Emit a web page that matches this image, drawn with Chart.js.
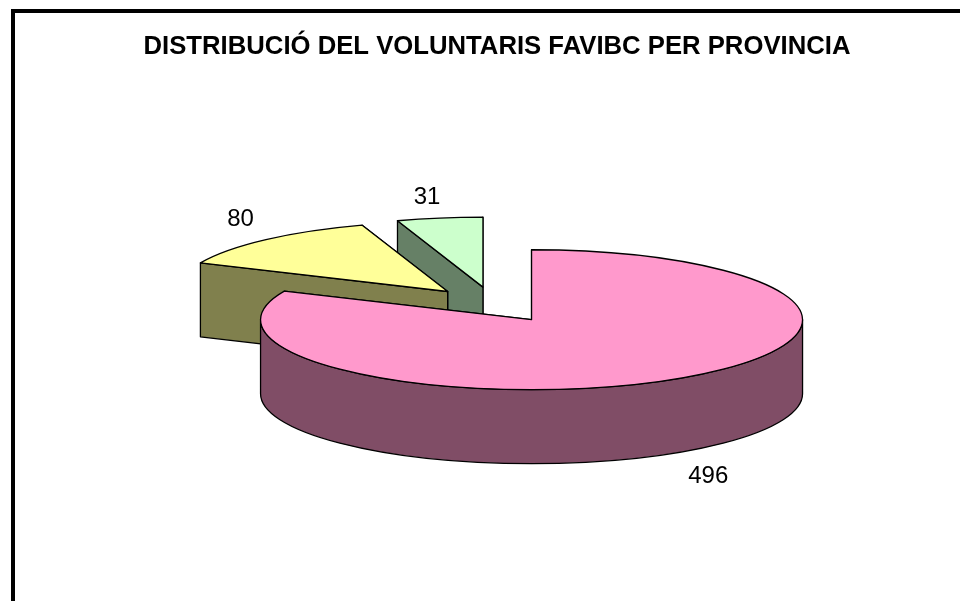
<!DOCTYPE html>
<html>
<head>
<meta charset="utf-8">
<title>Distribució voluntaris</title>
<script src="https://cdn.jsdelivr.net/npm/chart.js@4/dist/chart.umd.min.js"></script>
<style>
    html, body { margin: 0; padding: 0; background: #fff; overflow: hidden; }
    #wrap { position: relative; width: 960px; height: 601px; }
    #frame { position: absolute; left: 11px; top: 9px; right: 0; bottom: 0; border-top: 4px solid #000; border-left: 4px solid #000; }
    #pieChart { position: absolute; left: 0; top: 0; }
</style>
</head>
<body>
<div id="wrap">
    <div id="frame"></div>
    <canvas id="pieChart" width="960" height="601"></canvas>
</div>
<script>
var chartTitle = 'DISTRIBUCIÓ DEL VOLUNTARIS FAVIBC PER PROVINCIA';
var categories = ['Província 1', 'Província 2', 'Província 3'];
var values = [496, 80, 31];
var topColors = ['#FF99CC', '#FFFF99', '#CCFFCC'];
var wallColors = ['#804D66', '#80804D', '#668066'];

// flattened pie with a side wall, arcs still come from the doughnut controller
var pie3d = {
    id: 'pie3d',
    beforeDatasetDraw: function(chart, args, opts) {
        var ctx = chart.ctx;
        var arcs = args.meta.data;
        for (var i = arcs.length - 1; i >= 0; i--) {
            drawSlice(ctx, arcs[i], wallColors[i], opts);
        }
        return false;
    },
    afterDatasetsDraw: function(chart, args, opts) {
        var ctx = chart.ctx;
        var arcs = chart.getDatasetMeta(0).data;
        ctx.save();
        ctx.fillStyle = '#000';
        ctx.font = opts.labelFont;
        ctx.textAlign = 'center';
        ctx.textBaseline = 'middle';
        arcs.forEach(function(arc, i) {
            var c = sliceCenter(arc, opts);
            var mid = (arc.startAngle + arc.endAngle) / 2;
            var r = arc.outerRadius * opts.labelRadius;
            var nudge = opts.labelNudge[i];
            ctx.fillText(String(values[i]),
                c.x + Math.cos(mid) * r + nudge[0],
                c.y + Math.sin(mid) * r * opts.squash + nudge[1]);
        });
        ctx.restore();
    }
};

function sliceCenter(arc, opts) {
    var mid = (arc.startAngle + arc.endAngle) / 2;
    var shift = arc.outerRadius * opts.explode;
    return {
        x: arc.x + opts.shiftX + Math.cos(mid) * shift,
        y: arc.y + Math.sin(mid) * shift * opts.squash
    };
}

function drawSlice(ctx, arc, wall, opts) {
    var c = sliceCenter(arc, opts);
    var rx = arc.outerRadius;
    var ry = rx * opts.squash;
    var a0 = arc.startAngle;
    var a1 = arc.endAngle;
    var d = opts.depth;

    ctx.save();
    ctx.lineWidth = 1.3;
    ctx.strokeStyle = '#000';
    ctx.lineJoin = 'round';
    ctx.fillStyle = wall;

    // radial faces, back one first
    [a1, a0].forEach(function(a) {
        var px = c.x + Math.cos(a) * rx;
        var py = c.y + Math.sin(a) * ry;
        ctx.beginPath();
        ctx.moveTo(c.x, c.y);
        ctx.lineTo(px, py);
        ctx.lineTo(px, py + d);
        ctx.lineTo(c.x, c.y + d);
        ctx.closePath();
        ctx.fill();
        ctx.stroke();
    });

    // outer wall only on the front half
    var lo = Math.max(a0, 0);
    var hi = Math.min(a1, Math.PI);
    if (hi > lo) {
        ctx.beginPath();
        ctx.ellipse(c.x, c.y, rx, ry, 0, lo, hi);
        ctx.ellipse(c.x, c.y + d, rx, ry, 0, hi, lo, true);
        ctx.closePath();
        ctx.fill();
        ctx.stroke();
    }

    // top face: the library arc drawn through a squash transform
    ctx.save();
    ctx.translate(c.x, c.y);
    ctx.scale(1, opts.squash);
    ctx.translate(-arc.x, -arc.y);
    arc.draw(ctx);
    ctx.restore();

    ctx.beginPath();
    ctx.moveTo(c.x, c.y);
    ctx.ellipse(c.x, c.y, rx, ry, 0, a0, a1);
    ctx.closePath();
    ctx.stroke();
    ctx.restore();
}

var ctx = document.getElementById('pieChart').getContext('2d');
new Chart(ctx, {
    type: 'pie',
    data: {
        labels: categories,
        datasets: [{
            data: values,
            backgroundColor: topColors,
            borderWidth: 0
        }]
    },
    options: {
        responsive: false,
        animation: false,
        radius: 271,
        layout: { padding: { left: 34, right: 0, top: 0, bottom: 61 } },
        plugins: {
            legend: { display: false },
            tooltip: { enabled: false },
            title: {
                display: true,
                text: chartTitle,
                color: '#000',
                font: { family: '"Liberation Sans", Arial, sans-serif', size: 25.7, weight: 'bold' },
                padding: { top: 31, bottom: 7.6 }
            },
            pie3d: {
                squash: 0.258,
                depth: 74,
                explode: 0.255,
                shiftX: -3,
                labelRadius: 1.2,
                labelNudge: [[0, 86], [11, -10], [-4, -7]],
                labelFont: '24px "Liberation Sans", Arial, sans-serif'
            }
        }
    },
    plugins: [pie3d]
});
</script>
</body>
</html>
